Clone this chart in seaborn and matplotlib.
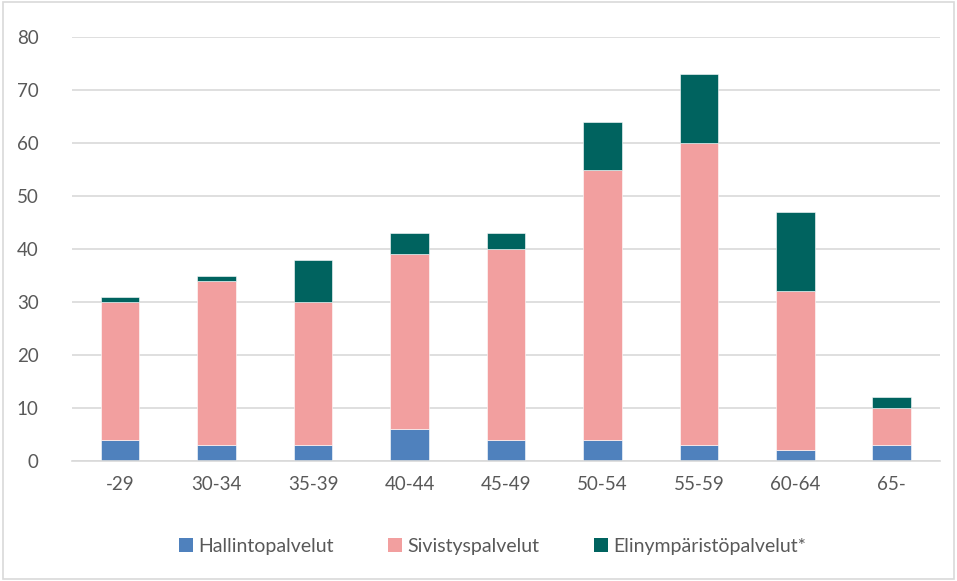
import matplotlib
matplotlib.use("Agg")
import matplotlib.pyplot as plt
import seaborn as sns
import pandas as pd
import numpy as np
from matplotlib.patches import Rectangle, Patch

categories = ["-29", "30-34", "35-39", "40-44", "45-49", "50-54", "55-59", "60-64", "65-"]
hallinto = [4, 3, 3, 6, 4, 4, 3, 2, 3]
sivistys = [26, 31, 27, 33, 36, 51, 57, 30, 7]
elinymp = [1, 1, 8, 4, 3, 9, 13, 15, 2]
series_names = ["Hallintopalvelut", "Sivistyspalvelut", "Elinympäristöpalvelut*"]
colors = ["#4f81bd", "#f29f9f", "#00635f"]
yticks = [0, 10, 20, 30, 40, 50, 60, 70, 80]

sns.set_theme(style="white")
plt.rcParams['font.family'] = ['Lato', 'DejaVu Sans']

fig = plt.figure(figsize=(9.57, 5.81), dpi=100)
ax = fig.add_axes([0.0752, 0.2065, 0.907, 0.7295])

df = pd.DataFrame({"cat": categories, "h": hallinto, "s": sivistys, "e": elinymp})
bottoms = np.zeros(len(categories))
for col, name, c in zip(["h", "s", "e"], series_names, colors):
    sns.barplot(data=df, x="cat", y=col, color=c, width=0.4, bottom=bottoms,
                ax=ax, saturation=1, edgecolor="white", linewidth=0.4)
    bottoms = bottoms + df[col].values

ax.set_ylim(0, 80)
ax.set_xlim(-0.5, len(categories) - 0.5)
ax.set_yticks(yticks)
ax.yaxis.grid(True, color="#d9d9d9", linewidth=1.2)
ax.set_axisbelow(True)
for s in ["top", "right", "left"]:
    ax.spines[s].set_visible(False)
ax.spines["bottom"].set_color("#d9d9d9")
ax.spines["bottom"].set_linewidth(1.2)
ax.set_xlabel("")
ax.set_ylabel("")
ax.tick_params(axis="both", length=0, labelsize=13.5, labelcolor="#595959")
ax.tick_params(axis="y", pad=24)
ax.tick_params(axis="x", pad=11)

handles = [Patch(facecolor=c, edgecolor="none") for c in colors]
fig.legend(handles, series_names, loc="center", bbox_to_anchor=(0.515, 0.06), ncol=3,
           frameon=False, fontsize=14, labelcolor="#595959", handlelength=0.7,
           handleheight=0.7, handletextpad=0.3, columnspacing=2.8)

fig.patches.append(Rectangle((0.003, 0.003), 0.994, 0.994, transform=fig.transFigure,
                             fill=False, edgecolor="#d9d9d9", linewidth=1.2))

fig.savefig("out.png", dpi=100)
